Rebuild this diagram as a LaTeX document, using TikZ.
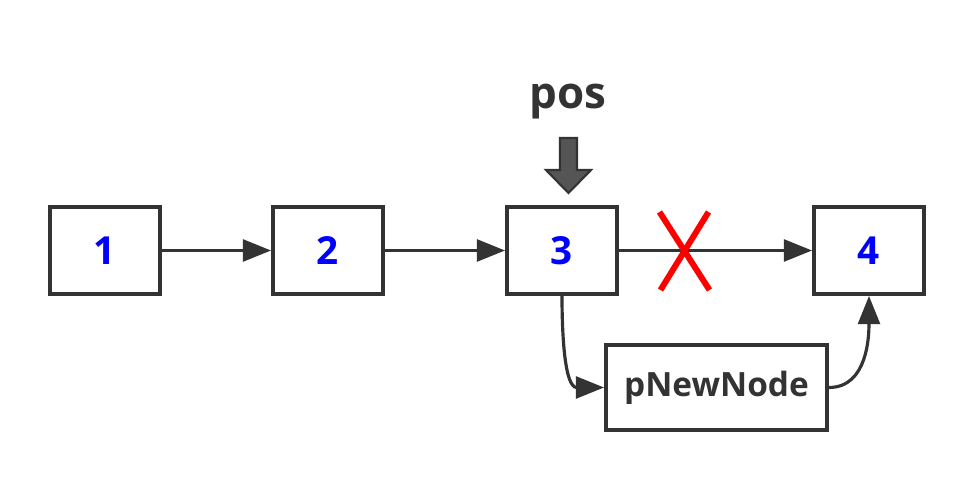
\documentclass[tikz,border=0pt]{standalone}
\usepackage{fontspec}
\setmainfont{Open Sans}
\usepackage{xcolor}
\usetikzlibrary{arrows.meta,positioning,calc}

\definecolor{linegray}{HTML}{333333}
\definecolor{posgray}{HTML}{555555}

\begin{document}
\begin{tikzpicture}[
  elem/.style={rectangle, draw=linegray, line width=1.1pt, minimum width=1.10cm, minimum height=0.87cm, font=\fontsize{11}{13}\selectfont\bfseries, text=blue},
  newelem/.style={rectangle, draw=linegray, line width=1.1pt, minimum width=2.21cm, minimum height=0.85cm, font=\fontsize{9.5}{11}\selectfont\bfseries, text=linegray},
  link/.style={-{Triangle[length=8pt,width=6.2pt]}, draw=linegray, line width=0.9pt},
  cross/.style={draw=red, line width=1.7pt}
]
\useasboundingbox (0,0) rectangle (9.75,4.82);

% list nodes
\node[elem] (n1) at (1.05, 2.315) {1};
\node[elem] (n2) at (3.28, 2.315) {2};
\node[elem] (n3) at (5.62, 2.315) {3};
\node[elem] (n4) at (8.69, 2.315) {4};

% node to insert
\node[newelem] (pnew) at (7.165, 0.945) {pNewNode};

% position marker
\node[font=\fontsize{12.5}{14}\selectfont\bfseries, text=linegray] (pos) at (5.68, 3.80) {pos};
\draw[draw=linegray, fill=posgray, line width=0.6pt]
  (5.60, 3.44) -- (5.77, 3.44) -- (5.77, 3.12) -- (5.91, 3.12) -- (5.685, 2.89)
  -- (5.46, 3.12) -- (5.60, 3.12) -- cycle;

% links
\draw[link] (n1) -- (n2);
\draw[link] (n2) -- (n3);
\draw[link] (n3) -- (n4);
\draw[link] (n3.south) to[out=-90, in=180] (pnew.west);
\draw[link] (pnew.east) to[out=0, in=-90] (n4.south);

% broken link
\coordinate (xc) at (6.845, 2.31);
\draw[cross] ($(xc)+(-0.25,0.39)$) -- ($(xc)+(0.25,-0.39)$);
\draw[cross] ($(xc)+(0.24,0.39)$) -- ($(xc)+(-0.24,-0.39)$);

\end{tikzpicture}
\end{document}
